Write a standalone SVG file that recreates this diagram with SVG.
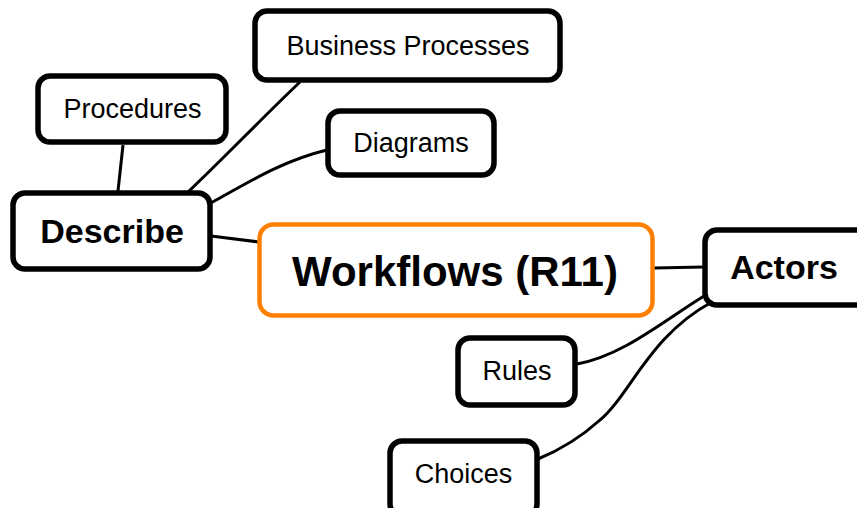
<svg xmlns="http://www.w3.org/2000/svg" width="857" height="508" viewBox="0 0 857 508">
  <style>
    .box { fill: #ffffff; stroke: #000000; stroke-width: 5.5; }
    .main { fill: #ffffff; stroke: #ff8000; stroke-width: 4.5; }
    .link { fill: none; stroke: #000000; stroke-width: 3; }
    .t { font-family: "Liberation Sans", Arial, sans-serif; font-size: 27px; fill: #000000; text-anchor: middle; }
    .tb { font-family: "Liberation Sans", Arial, sans-serif; font-size: 34px; font-weight: bold; fill: #000000; text-anchor: middle; }
    .tm { font-family: "Liberation Sans", Arial, sans-serif; font-size: 42px; font-weight: bold; fill: #000000; text-anchor: middle; }
  </style>
  <rect width="857" height="508" fill="#ffffff"/>

  <g id="connectors">
    <path class="link" d="M123,145 L118,191"/>
    <path class="link" d="M300,82 C262,118 232,150 188,192"/>
    <path class="link" d="M327,150 C285,160 252,180 211,203"/>
    <path class="link" d="M211,236 L259,242"/>
    <path class="link" d="M654,268 L704,267"/>
    <path class="link" d="M704,296 C662,322 622,356 577,364"/>
    <path class="link" d="M712,302 C650,335 630,395 600,420 C580,438 560,450 538,459"/>
  </g>

  <g id="procedures">
    <rect class="box" x="38" y="76" width="188" height="66" rx="12"/>
    <text class="t" x="132.5" y="118">Procedures</text>
  </g>

  <g id="business-processes">
    <rect class="box" x="255" y="11" width="305" height="69" rx="12"/>
    <text class="t" x="408" y="55">Business Processes</text>
  </g>

  <g id="diagrams">
    <rect class="box" x="328" y="111" width="166" height="64" rx="12"/>
    <text class="t" x="411" y="152">Diagrams</text>
  </g>

  <g id="describe">
    <rect class="box" x="13" y="193" width="197" height="76" rx="12"/>
    <text class="tb" x="112" y="243">Describe</text>
  </g>

  <g id="workflows">
    <rect class="main" x="259.5" y="224.5" width="393" height="91" rx="14"/>
    <text class="tm" x="455" y="286">Workflows (R11)</text>
  </g>

  <g id="actors">
    <rect class="box" x="705" y="230" width="165" height="75" rx="12"/>
    <text class="tb" x="784" y="279">Actors</text>
  </g>

  <g id="rules">
    <rect class="box" x="458" y="338" width="117" height="67" rx="12"/>
    <text class="t" x="517" y="380">Rules</text>
  </g>

  <g id="choices">
    <rect class="box" x="390" y="441" width="147" height="75" rx="12"/>
    <text class="t" x="463.5" y="483">Choices</text>
  </g>
</svg>
